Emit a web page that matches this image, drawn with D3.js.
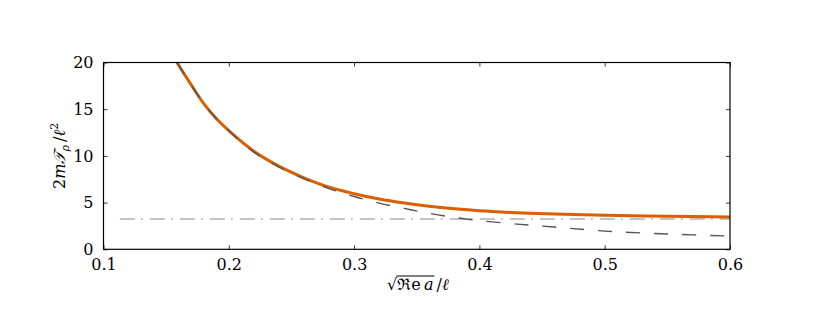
<!DOCTYPE html>
<html>
<head>
<meta charset="utf-8">
<script src="https://cdnjs.cloudflare.com/ajax/libs/d3/7.8.5/d3.min.js"></script>
<style>
  body { margin: 0; background: #ffffff; }
  text { font-family: "DejaVu Serif", serif; fill: #000; }
</style>
</head>
<body>
<div id="chart"></div>
<script>

// values
var xValues     = [0.1586, 0.17, 0.18, 0.19, 0.2, 0.22, 0.24, 0.26, 0.28, 0.3,
                   0.32, 0.34, 0.36, 0.38, 0.4, 0.43, 0.46, 0.5, 0.55, 0.6];
var fullValues  = [20, 17.6, 15.6, 14.0, 12.7, 10.5, 8.9, 7.65, 6.65, 5.95,
                   5.38, 4.95, 4.6, 4.33, 4.12, 3.92, 3.78, 3.65, 3.54, 3.47];
var approxValues = [20, 17.6, 15.6, 14.0, 12.7, 10.4, 8.8, 7.55, 6.5, 5.65,
                    4.95, 4.38, 3.85, 3.42, 3.07, 2.7, 2.38, 1.95, 1.64, 1.42];
var limitX      = [0.113, 0.6];
var limitValues = [3.25, 3.25];

var xTicks = [0.1, 0.2, 0.3, 0.4, 0.5, 0.6];
var yTicks = [0, 5, 10, 15, 20];

// sizes of the svg and the plot area
var width = 830,
    height = 312,
    margin = {left: 103.5, top: 62.5, right: 100, bottom: 62.7},
    plotWidth = width - margin.left - margin.right,
    plotHeight = height - margin.top - margin.bottom,
    tickLength = 4;

var svg = d3.select("#chart")
            .append("svg")
            .attr("width", width)
            .attr("height", height);

var plot = svg.append("g")
              .attr("transform", "translate(" + margin.left + "," + margin.top + ")");

// scales
var x = d3.scaleLinear()
          .domain([0.1, 0.6])
          .range([0, plotWidth]);

var y = d3.scaleLinear()
          .domain([0, 20])
          .range([plotHeight, 0]);

// clip the curves to the plot area
plot.append("clipPath")
    .attr("id", "clip")
    .append("rect")
    .attr("width", plotWidth)
    .attr("height", plotHeight);

var line = d3.line()
             .x(function(d) { return x(d[0]); })
             .y(function(d) { return y(d[1]); })
             .curve(d3.curveCatmullRom.alpha(0.5));

var lines = plot.append("g")
                .attr("clip-path", "url(#clip)");

// horizontal limit, dash-dot
lines.append("path")
     .datum(d3.zip(limitX, limitValues))
     .attr("d", line)
     .attr("fill", "none")
     .attr("stroke", "#b0b0b0")
     .attr("stroke-width", 1.5)
     .attr("stroke-dasharray", "15,6,2,7");

// full result, thick orange
lines.append("path")
     .datum(d3.zip(xValues, fullValues))
     .attr("d", line)
     .attr("fill", "none")
     .attr("stroke", "#d95f02")
     .attr("stroke-width", 3);

// approximation, dashed grey on top
lines.append("path")
     .datum(d3.zip(xValues, approxValues))
     .attr("d", line)
     .attr("fill", "none")
     .attr("stroke", "#555555")
     .attr("stroke-width", 1.4)
     .attr("stroke-dasharray", "14,14");

// axes with inward ticks on all four sides
function styleAxis(g) {
  g.select(".domain").remove();
  g.selectAll(".tick line").attr("stroke", "#000").attr("stroke-width", 0.8);
  g.selectAll(".tick text")
   .style("font-family", "DejaVu Serif")
   .style("font-size", "16px");
}

plot.append("g")
    .attr("transform", "translate(0," + plotHeight + ")")
    .call(d3.axisBottom(x).tickValues(xTicks).tickSizeInner(-tickLength).tickSizeOuter(0)
            .tickPadding(9).tickFormat(d3.format(".1f")))
    .call(styleAxis);

plot.append("g")
    .call(d3.axisTop(x).tickValues(xTicks).tickSizeInner(-tickLength).tickSizeOuter(0)
            .tickFormat(""))
    .call(styleAxis);

plot.append("g")
    .call(d3.axisLeft(y).tickValues(yTicks).tickSizeInner(-tickLength).tickSizeOuter(0)
            .tickPadding(10).tickFormat(d3.format("d")))
    .call(styleAxis);

plot.append("g")
    .attr("transform", "translate(" + plotWidth + ",0)")
    .call(d3.axisRight(y).tickValues(yTicks).tickSizeInner(-tickLength).tickSizeOuter(0)
            .tickFormat(""))
    .call(styleAxis);

// frame
plot.append("rect")
    .attr("width", plotWidth)
    .attr("height", plotHeight)
    .attr("fill", "none")
    .attr("stroke", "#000")
    .attr("stroke-width", 1.2);

// x label: sqrt(Re a)/l
var xLabel = svg.append("text")
                .attr("x", 387)
                .attr("y", 290)
                .style("font-size", "16px");
xLabel.append("tspan").text("\u221A");
xLabel.append("tspan").attr("id", "radicand").text("\u211Ce\u2009").append("tspan")
      .style("font-style", "italic").text("a");
xLabel.append("tspan").text("\u2009/");
xLabel.append("tspan").style("font-style", "italic").text("\u2113");

var rad = document.getElementById("radicand").getBBox();
svg.append("line")
   .attr("x1", rad.x - 1)
   .attr("x2", rad.x + rad.width + 1)
   .attr("y1", 276)
   .attr("y2", 276)
   .attr("stroke", "#000")
   .attr("stroke-width", 1);

// y label: 2m T_rho / l^2
var yLabel = svg.append("text")
                .attr("transform", "translate(65," + (margin.top + plotHeight / 2) + ") rotate(-90)")
                .attr("text-anchor", "middle")
                .style("font-size", "16px");
yLabel.append("tspan").text("2");
yLabel.append("tspan").style("font-style", "italic").text("m\uD835\uDCAF");
yLabel.append("tspan").attr("dy", 4).style("font-size", "11px").style("font-style", "italic").text("\u03C1");
yLabel.append("tspan").attr("dy", -4).text("\u2009/");
yLabel.append("tspan").style("font-style", "italic").text("\u2113");
yLabel.append("tspan").attr("dy", -7).style("font-size", "11px").text("2");

</script>
</body>
</html>
